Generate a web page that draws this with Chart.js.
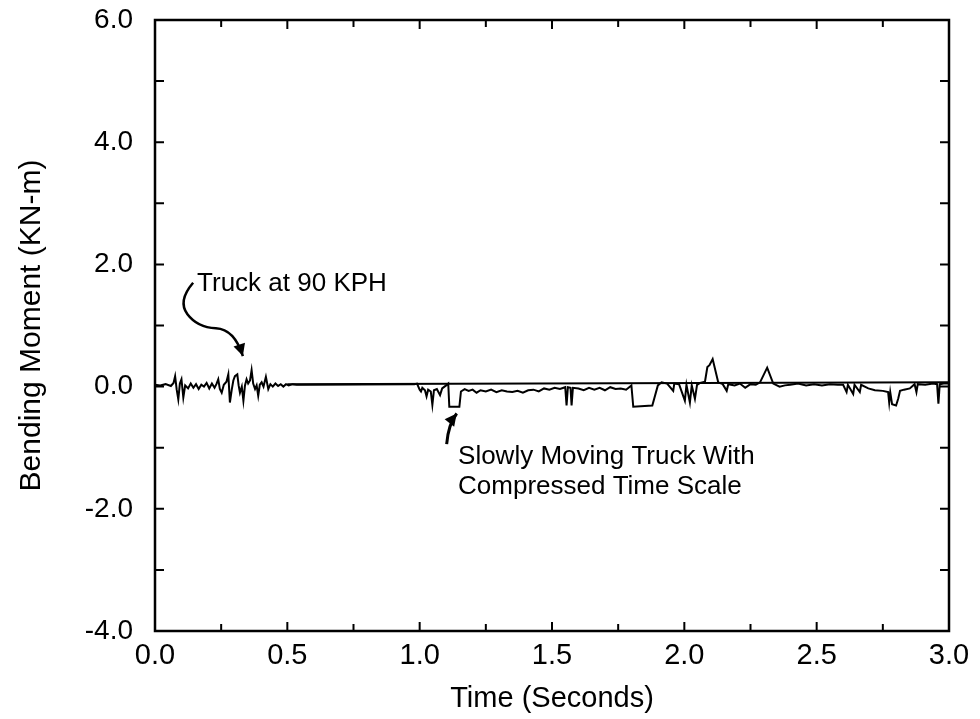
<!DOCTYPE html>
<html>
<head>
<meta charset="utf-8">
<title>Bending Moment</title>
<script src="https://cdn.jsdelivr.net/npm/chart.js@4.4.1/dist/chart.umd.min.js"></script>
<style>
  html, body { margin: 0; padding: 0; background: #fff; overflow: hidden; }
  #wrap { width: 980px; height: 719px; position: relative; }
</style>
</head>
<body>
<div id="wrap"><canvas id="myChart"></canvas></div>
<script>
var timeS = [
  0.000, 0.020, 0.040, 0.060, 0.070, 0.076, 0.082, 0.088, 0.094, 0.100,
  0.107, 0.114, 0.125, 0.135, 0.145, 0.155, 0.165, 0.175, 0.185, 0.195,
  0.205, 0.215, 0.225, 0.232, 0.239, 0.245, 0.252, 0.260, 0.270, 0.277,
  0.283, 0.290, 0.296, 0.302, 0.311, 0.316, 0.321, 0.328, 0.334, 0.340,
  0.346, 0.352, 0.359, 0.365, 0.371, 0.378, 0.384, 0.390, 0.396, 0.403,
  0.410, 0.419, 0.428, 0.436, 0.445, 0.455, 0.465, 0.475, 0.485, 0.495,
  0.505, 0.520, 0.535, 0.550, 0.980,
  0.990, 1.000, 1.005, 1.010, 1.020, 1.026, 1.032, 1.042, 1.048, 1.054,
  1.065, 1.077, 1.085, 1.100, 1.108, 1.112, 1.150, 1.156, 1.170, 1.185,
  1.200, 1.215, 1.230, 1.250, 1.270, 1.290, 1.310, 1.330, 1.350, 1.370,
  1.390, 1.410, 1.430, 1.450, 1.470, 1.490, 1.510, 1.530, 1.550, 1.555,
  1.560, 1.570, 1.574, 1.579, 1.600, 1.620, 1.640, 1.660, 1.680, 1.700,
  1.720, 1.740, 1.760, 1.780, 1.800, 1.807, 1.879, 1.900, 1.914, 1.935,
  1.958, 1.962, 1.980, 2.002, 2.008, 2.021, 2.028, 2.040, 2.048, 2.060,
  2.078, 2.087, 2.095, 2.107, 2.128, 2.145, 2.160, 2.166, 2.190, 2.210,
  2.230, 2.250, 2.270, 2.286, 2.313, 2.336, 2.360, 2.380, 2.400, 2.430,
  2.460, 2.490, 2.520, 2.550, 2.580, 2.600, 2.613, 2.618, 2.638, 2.643,
  2.663, 2.668, 2.695, 2.720, 2.750, 2.770, 2.774, 2.778, 2.785, 2.800,
  2.808, 2.815, 2.830, 2.852, 2.870, 2.877, 2.882, 2.910, 2.940, 2.955,
  2.960, 2.965, 2.980, 3.000
];
var moment = [
  0.03, 0.02, 0.04, 0.01, 0.06, 0.17, -0.05, -0.21, 0.05, 0.12,
  -0.18, 0.02, -0.03, 0.05, -0.02, 0.04, -0.04, 0.03, 0.00, 0.06,
  -0.03, 0.05, -0.02, 0.04, 0.12, -0.04, -0.10, 0.03, 0.08, 0.20,
  -0.26, -0.05, 0.10, 0.17, 0.20, 0.02, -0.10, 0.00, -0.23, 0.02,
  0.12, 0.05, 0.10, 0.27, 0.05, -0.04, 0.02, -0.15, 0.03, 0.07,
  0.00, 0.16, -0.04, 0.04, 0.00, 0.05, 0.01, 0.04, 0.00, 0.04,
  0.02, 0.04, 0.03, 0.03, 0.04,
  0.05, -0.05, -0.08, -0.02, -0.06, -0.16, -0.05, -0.08, -0.30, -0.06,
  -0.04, -0.14, -0.03, 0.02, 0.05, -0.33, -0.33, -0.08, -0.04, -0.07,
  -0.05, -0.10, -0.06, -0.08, -0.05, -0.09, -0.06, -0.08, -0.09, -0.07,
  -0.10, -0.06, -0.05, -0.08, -0.03, -0.05, -0.02, -0.04, -0.01, -0.31,
  -0.01, -0.02, -0.31, -0.02, -0.03, -0.06, -0.02, -0.05, -0.02, -0.06,
  -0.01, -0.04, -0.03, -0.05, 0.02, -0.33, -0.31, 0.02, 0.07, 0.05,
  -0.07, 0.05, 0.04, -0.23, 0.03, -0.26, 0.02, -0.20, 0.03, 0.06,
  0.08, 0.32, 0.35, 0.45, 0.07, 0.04, -0.07, 0.04, 0.02, 0.05,
  -0.02, 0.04, 0.03, 0.07, 0.31, 0.05, 0.00, 0.02, 0.03, 0.05,
  0.02, 0.04, 0.02, 0.04, 0.03, 0.03, -0.09, 0.03, -0.12, 0.03,
  -0.09, 0.03, -0.03, -0.06, -0.07, -0.09, -0.26, -0.09, -0.29, -0.31,
  -0.20, -0.07, -0.05, -0.03, 0.04, -0.09, 0.04, 0.03, 0.05, 0.04,
  -0.28, 0.04, 0.05, 0.05
];
// the zero reference trace
var baseTime = [0.5, 3.0];
var baseMoment = [0.04, 0.07];

var xTickStep = 0.25;
var yTickStep = 1;

// annotation anchors, in data units (t, KN-m)
var note1 = { text: ['Truck at 90 KPH'], t: 0.159, v: 1.56 };
var arrow1 = [[0.144, 1.70], [0.085, 1.40], [0.16, 0.97], [0.30, 0.94], [0.332, 0.50]];
var note2 = { text: ['Slowly Moving Truck With', 'Compressed Time Scale'], t: 1.145, v: -1.27 };
var arrow2 = [[1.102, -0.94], [1.108, -0.62], [1.14, -0.44]];

function pts(xs, ys) {
  return xs.map(function (x, i) { return { x: x, y: ys[i] }; });
}

var FONT = "'Liberation Sans', Arial, sans-serif";

// box round the plot + ticks pointing inward on all four sides
var framePlugin = {
  id: 'frame',
  afterDraw: function (chart) {
    var ctx = chart.ctx, a = chart.chartArea;
    var xs = chart.scales.x, ys = chart.scales.y;
    ctx.save();
    ctx.strokeStyle = '#000';
    ctx.lineWidth = 2.5;
    ctx.strokeRect(a.left, a.top, a.right - a.left, a.bottom - a.top);
    ctx.lineWidth = 2;
    xs.ticks.forEach(function (tk) {
      var px = xs.getPixelForValue(tk.value);
      var len = Math.round(tk.value * 4) % 2 === 0 ? 9 : 7;
      ctx.beginPath();
      ctx.moveTo(px, a.bottom); ctx.lineTo(px, a.bottom - len);
      ctx.moveTo(px, a.top); ctx.lineTo(px, a.top + len);
      ctx.stroke();
    });
    ys.ticks.forEach(function (tk) {
      var py = ys.getPixelForValue(tk.value);
      ctx.beginPath();
      ctx.moveTo(a.left, py); ctx.lineTo(a.left + 9, py);
      ctx.moveTo(a.right, py); ctx.lineTo(a.right - 9, py);
      ctx.stroke();
    });

    // annotations
    ctx.fillStyle = '#000';
    ctx.font = '26px ' + FONT;
    ctx.textBaseline = 'alphabetic';
    ctx.textAlign = 'left';
    [note1, note2].forEach(function (n) {
      var x = xs.getPixelForValue(n.t), y = ys.getPixelForValue(n.v);
      n.text.forEach(function (line, i) { ctx.fillText(line, x, y + i * 30); });
    });

    function curve(list) {
      var p = list.map(function (q) { return [xs.getPixelForValue(q[0]), ys.getPixelForValue(q[1])]; });
      ctx.beginPath();
      ctx.moveTo(p[0][0], p[0][1]);
      for (var i = 1; i < p.length - 1; i++) {
        var mx = (p[i][0] + p[i + 1][0]) / 2, my = (p[i][1] + p[i + 1][1]) / 2;
        if (i === p.length - 2) { mx = p[i + 1][0]; my = p[i + 1][1]; }
        ctx.quadraticCurveTo(p[i][0], p[i][1], mx, my);
      }
      ctx.stroke();
      return p;
    }
    function head(tip, from) {
      var ang = Math.atan2(tip[1] - from[1], tip[0] - from[0]);
      var L = 12, W = 6;
      ctx.beginPath();
      ctx.moveTo(tip[0], tip[1]);
      ctx.lineTo(tip[0] - L * Math.cos(ang) + W * Math.sin(ang), tip[1] - L * Math.sin(ang) - W * Math.cos(ang));
      ctx.lineTo(tip[0] - L * Math.cos(ang) - W * Math.sin(ang), tip[1] - L * Math.sin(ang) + W * Math.cos(ang));
      ctx.closePath();
      ctx.fill();
    }
    ctx.lineWidth = 2.5;
    var p1 = curve(arrow1);
    head(p1[p1.length - 1], p1[p1.length - 2]);
    ctx.lineWidth = 3;
    var p2 = curve(arrow2);
    head(p2[p2.length - 1], p2[p2.length - 2]);
    ctx.restore();
  }
};

var ctx = document.getElementById('myChart').getContext('2d');
var chart = new Chart(ctx, {
  type: 'line',
  data: {
    datasets: [{
      label: 'Bending moment',
      data: pts(timeS, moment),
      borderColor: '#000',
      borderWidth: 2,
      pointRadius: 0,
      tension: 0,
      fill: false
    }, {
      label: 'Zero',
      data: pts(baseTime, baseMoment),
      borderColor: '#000',
      borderWidth: 2,
      pointRadius: 0,
      tension: 0,
      fill: false
    }]
  },
  options: {
    responsive: true,
    maintainAspectRatio: false,
    animation: false,
    layout: { padding: { top: 20, right: 31, left: 0, bottom: 0 } },
    plugins: { legend: { display: false }, tooltip: { enabled: false } },
    scales: {
      x: {
        type: 'linear', min: 0, max: 3,
        grid: { display: false, drawTicks: false },
        border: { display: false },
        afterFit: function (s) { s.height = 88; s.paddingLeft = 0; s.paddingRight = 0; },
        ticks: {
          stepSize: xTickStep, autoSkip: false, maxRotation: 0, padding: 8,
          color: '#000', font: { family: FONT, size: 29 },
          callback: function (v) { return Math.round(v * 4) % 2 === 0 ? v.toFixed(1) : ''; }
        },
        title: {
          display: true, text: 'Time (Seconds)', color: '#000',
          font: { family: FONT, size: 29 }, padding: { top: 0, bottom: 3 }
        }
      },
      y: {
        min: -4, max: 6,
        grid: { display: false, drawTicks: false },
        border: { display: false },
        afterFit: function (s) { s.width = 155; s.paddingTop = 0; s.paddingBottom = 0; },
        ticks: {
          stepSize: yTickStep, autoSkip: false, padding: 22,
          color: '#000', font: { family: FONT, size: 28 },
          callback: function (v) { return Math.round(v) % 2 === 0 ? v.toFixed(1) : ''; }
        },
        title: {
          display: true, text: 'Bending Moment (KN-m)', color: '#000',
          font: { family: FONT, size: 30 }, padding: { top: 14, bottom: 0 }
        }
      }
    }
  },
  plugins: [framePlugin]
});
</script>
</body>
</html>
